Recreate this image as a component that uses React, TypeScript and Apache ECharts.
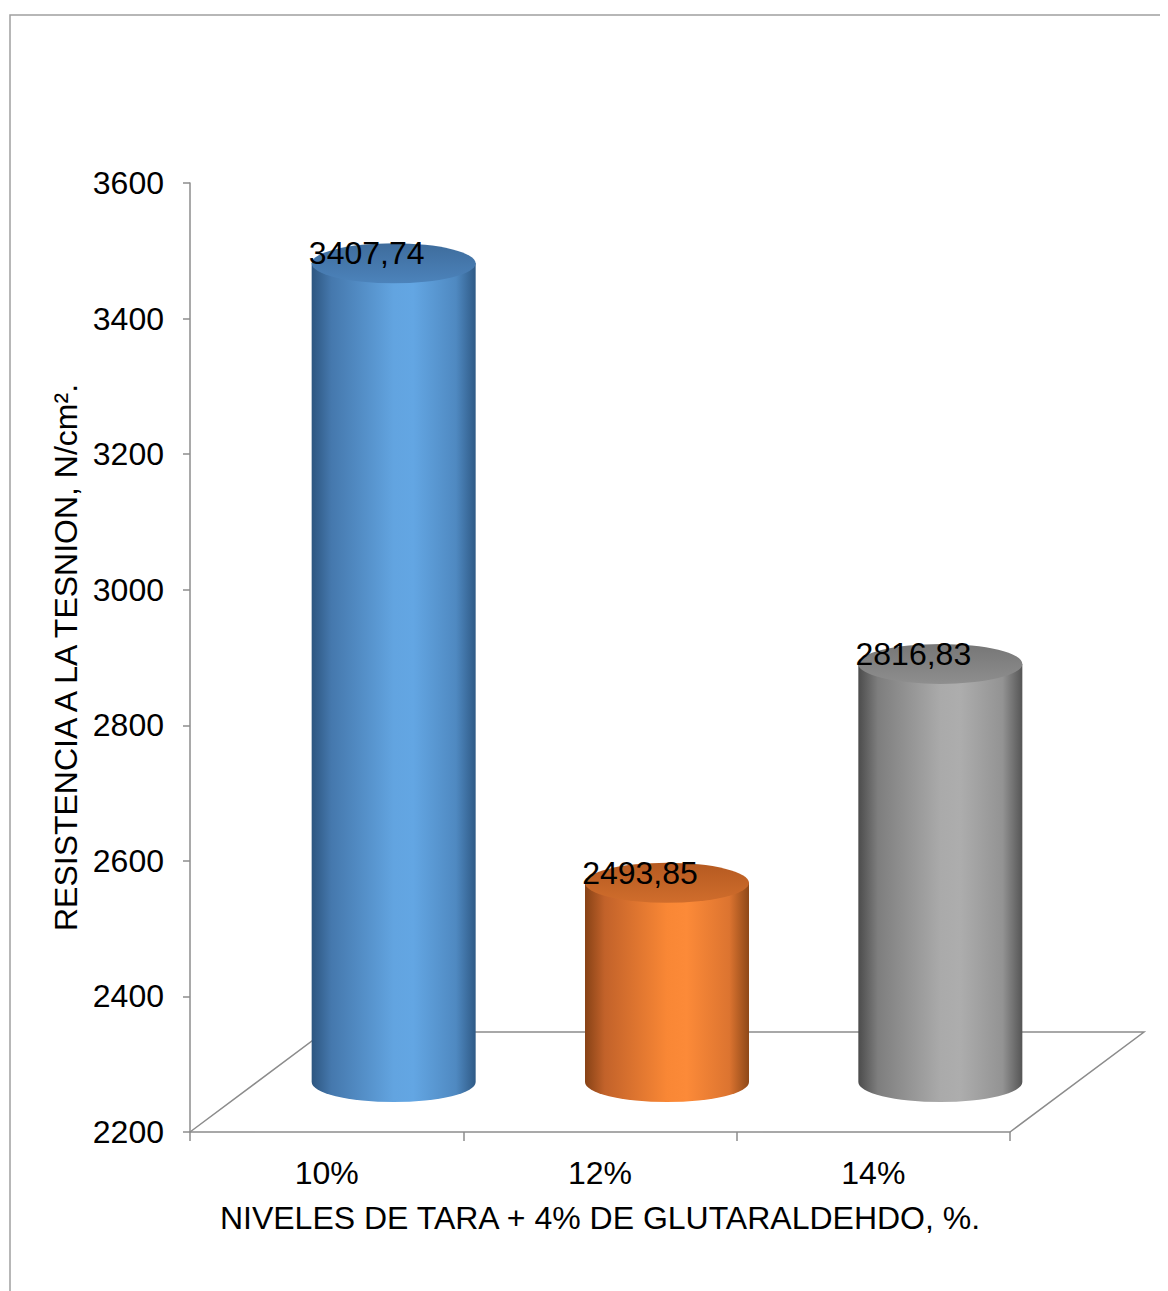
import React, { useEffect, useRef } from "react";
import * as echarts from "echarts";

const categories = ["10%", "12%", "14%"];
const values = [3407.74, 2493.85, 2816.83];
const yMin = 2200;
const yMax = 3600;
const yInterval = 200;
const xTitle = "NIVELES DE TARA + 4% DE GLUTARALDEHDO, %.";
const yTitle = "RESISTENCIA A LA TESNION, N/cm².";

const FONT = "'Liberation Sans', Arial, sans-serif";
const FS = 32;
const AXIS_COLOR = "#8c8c8c";
// 3D depth offset of the floor (pixels)
const DX = 134;
const DY = -100;

const palettes = [
  {
    side: [
      [0, "#2d5680"],
      [0.12, "#4578ad"],
      [0.5, "#62a4e0"],
      [0.62, "#63a6e3"],
      [0.88, "#4f89c1"],
      [1, "#2f5a86"],
    ],
    top: ["#3e6c9c", "#4c83bb"],
  },
  {
    side: [
      [0, "#874216"],
      [0.12, "#c2622a"],
      [0.5, "#f98735"],
      [0.62, "#fc8a38"],
      [0.88, "#dc7430"],
      [1, "#8e4818"],
    ],
    top: ["#b55a21", "#d06d2c"],
  },
  {
    side: [
      [0, "#4c4c4c"],
      [0.12, "#7e7e7e"],
      [0.5, "#aaaaaa"],
      [0.62, "#adadad"],
      [0.88, "#939393"],
      [1, "#555555"],
    ],
    top: ["#767676", "#8e8e8e"],
  },
];

const fmt = (v: number) => v.toFixed(2).replace(".", ",");

export default function App() {
  const ref = useRef<HTMLDivElement>(null);

  useEffect(() => {
    if (!ref.current) return;
    document.documentElement.style.overflow = "hidden";
    const chart = echarts.init(ref.current, undefined, { renderer: "svg" });

    const option: any = {
      animation: false,
      backgroundColor: "#ffffff",
      graphic: [
        {
          type: "rect",
          silent: true,
          shape: { x: 2, y: 7, width: 1400, height: 1500 },
          style: { fill: "none", stroke: "#a0a0a0", lineWidth: 1.5 },
          z: -10,
        },
      ],
      grid: { left: 182, top: 175, width: 820, height: 949, containLabel: false },
      xAxis: {
        type: "category",
        data: categories,
        boundaryGap: true,
        axisLine: { show: true, lineStyle: { color: AXIS_COLOR, width: 1.5 } },
        axisTick: { show: true, length: 9, lineStyle: { color: AXIS_COLOR, width: 1.5 } },
        axisLabel: { fontSize: FS, fontFamily: FONT, color: "#000", margin: 25 },
        splitLine: { show: false },
        name: xTitle,
        nameLocation: "middle",
        nameGap: 70,
        nameTextStyle: { fontSize: FS, fontFamily: FONT, color: "#000" },
      },
      yAxis: {
        type: "value",
        min: yMin,
        max: yMax,
        interval: yInterval,
        axisLine: { show: true, lineStyle: { color: AXIS_COLOR, width: 1.5 } },
        axisTick: { show: true, length: 7, lineStyle: { color: AXIS_COLOR, width: 1.5 } },
        axisLabel: {
          fontSize: FS,
          fontFamily: FONT,
          color: "#000",
          margin: 26,
          formatter: (v: number) => String(v),
        },
        splitLine: { show: false },
        name: yTitle,
        nameLocation: "middle",
        nameGap: 100,
        nameTextStyle: { fontSize: FS, fontFamily: FONT, color: "#000" },
      },
      series: [
        {
          type: "custom",
          name: "floor",
          z: 1,
          silent: true,
          clip: false,
          data: [[0, yMin]],
          renderItem: (_params: any, api: any) => {
            const band = api.size([1, 0])[0];
            const first = api.coord([0, yMin]);
            const last = api.coord([categories.length - 1, yMin]);
            const l = first[0] - band / 2;
            const r = last[0] + band / 2;
            const y = first[1];
            return {
              type: "polyline",
              shape: {
                points: [
                  [l, y],
                  [l + DX, y + DY],
                  [r + DX, y + DY],
                  [r, y],
                ],
              },
              style: { stroke: AXIS_COLOR, lineWidth: 1.5, fill: null },
            };
          },
        },
        {
          type: "custom",
          name: "values",
          z: 2,
          clip: false,
          data: values.map((v, i) => [i, v]),
          encode: { x: 0, y: 1 },
          renderItem: (params: any, api: any) => {
            const idx = api.value(0);
            const v = api.value(1);
            const top = api.coord([idx, v]);
            const base = api.coord([idx, yMin]);
            const band = api.size([1, 0])[0];
            const w = band * 0.6;
            const rx = w / 2;
            const ry = 20;
            const cx = top[0] + DX / 2;
            const ty = top[1] + DY / 2;
            const by = base[1] + DY / 2;
            const l = cx - rx;
            const r = cx + rx;
            const p = palettes[params.dataIndex % palettes.length];
            const sideGrad = new echarts.graphic.LinearGradient(
              0,
              0,
              1,
              0,
              p.side.map((s: any) => ({ offset: s[0], color: s[1] }))
            );
            const topGrad = new echarts.graphic.LinearGradient(0, 0, 0, 1, [
              { offset: 0, color: p.top[0] },
              { offset: 1, color: p.top[1] },
            ]);
            return {
              type: "group",
              children: [
                {
                  type: "path",
                  shape: {
                    pathData: `M ${l} ${ty} L ${l} ${by} A ${rx} ${ry} 0 0 0 ${r} ${by} L ${r} ${ty} Z`,
                  },
                  style: { fill: sideGrad },
                },
                {
                  type: "path",
                  shape: {
                    pathData: `M ${l} ${ty} A ${rx} ${ry} 0 1 0 ${r} ${ty} A ${rx} ${ry} 0 1 0 ${l} ${ty} Z`,
                  },
                  style: { fill: topGrad },
                },
                {
                  type: "text",
                  x: cx - 27,
                  y: ty - 10,
                  z2: 10,
                  style: {
                    text: fmt(v),
                    fill: "#000",
                    fontSize: FS,
                    fontFamily: FONT,
                    align: "center",
                    verticalAlign: "middle",
                  },
                },
              ],
            };
          },
        },
      ],
    };

    chart.setOption(option);
    return () => {
      chart.dispose();
    };
  }, []);

  return <div ref={ref} style={{ width: 1160, height: 1283 }} />;
}
